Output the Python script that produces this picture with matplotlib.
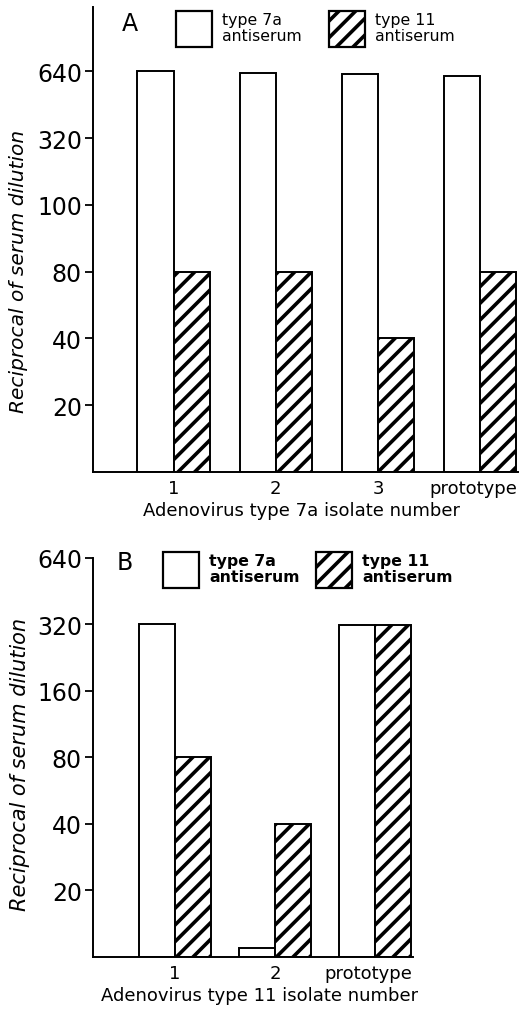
import matplotlib.pyplot as plt
from matplotlib.patches import Rectangle
import matplotlib.transforms as mtransforms
import numpy as np

# panel A data
cats_a = ["1", "2", "3", "prototype"]
t7a_a = [640, 630, 625, 612]
t11_a = [80, 80, 40, 80]
yticks_a = [20, 40, 80, 160, 320, 640]
ylabels_a = ["20", "40", "80", "100", "320", "640"]

# panel B data
cats_b = ["1", "2", "prototype"]
t7a_b = [320, 11, 318]
t11_b = [80, 40, 318]
yticks_b = [20, 40, 80, 160, 320, 640]
ylabels_b = ["20", "40", "80", "160", "320", "640"]

BASE = 10
W, H = 523, 1012
plt.rcParams["font.family"] = ["DejaVu Sans"]
plt.rcParams["hatch.linewidth"] = 2.6
plt.rcParams["hatch.color"] = "black"

fig = plt.figure(figsize=(W / 100, H / 100), dpi=100)


def fig_box(x0, y0, x1, y1):
    # pixel box (top-left origin) -> figure fraction
    return [x0 / W, 1 - y1 / H, (x1 - x0) / W, (y1 - y0) / H]


def draw_panel(ax, cats, v7, v11, yticks, ylabels, xlim, ylim, bw):
    x = np.arange(len(cats))
    ax.bar(x - bw, np.array(v7) - BASE, bw, bottom=BASE, align="edge",
           facecolor="white", edgecolor="black", linewidth=1.4)
    ax.bar(x, np.array(v11) - BASE, bw, bottom=BASE, align="edge",
           facecolor="white", edgecolor="black", linewidth=1.4, hatch="//")
    ax.set_yscale("log", base=2)
    ax.set_ylim(*ylim)
    ax.set_xlim(*xlim)
    ax.set_yticks(yticks)
    ax.set_yticklabels(ylabels)
    ax.minorticks_off()
    ax.set_xticks(x)
    ax.set_xticklabels(cats)
    ax.tick_params(axis="x", length=0, labelsize=13, pad=5)
    ax.tick_params(axis="y", length=6, width=1.3, direction="out", labelsize=17, pad=2)
    for s in ["top", "right"]:
        ax.spines[s].set_visible(False)
    for s in ["left", "bottom"]:
        ax.spines[s].set_linewidth(1.4)
    # the last label sits a little left of its group, as in the original
    lab = ax.get_xticklabels()[-1]
    lab.set_transform(lab.get_transform() +
                      mtransforms.ScaledTranslation(-0.07, 0, fig.dpi_scale_trans))


def legend(letter, bold, lx, ly, boxes):
    fig.text(lx / W, 1 - ly / H, letter, fontsize=17, va="top", ha="left")
    for (bx, by, hatch, txt) in boxes:
        r = Rectangle((bx / W, 1 - (by + 36) / H), 36 / W, 36 / H,
                      transform=fig.transFigure, facecolor="white",
                      edgecolor="black", linewidth=1.6, hatch=hatch)
        fig.add_artist(r)
        fig.text((bx + 46) / W, 1 - (by + 1) / H, txt, fontsize=11.3,
                 va="top", ha="left", linespacing=1.05,
                 fontweight="bold" if bold else "normal")


# Panel A
axA = fig.add_axes(fig_box(93, 8, 518, 473))
draw_panel(axA, cats_a, t7a_a, t11_a, yticks_a, ylabels_a,
           (-0.79, 3.37), (BASE, 1250), 0.355)
axA.set_xlabel("Adenovirus type 7a isolate number", fontsize=13)
axA.xaxis.set_label_coords(0.49, -0.062)
axA.set_ylabel("Reciprocal of serum dilution", fontsize=14.5, style="italic")
axA.yaxis.set_label_coords(-0.153, 0.434)
legend("A", False, 122, 12, [(176, 12, "", "type 7a\nantiserum"),
                             (329, 12, "//", "type 11\nantiserum")])

# Panel B
axB = fig.add_axes(fig_box(93, 559, 413, 958))
draw_panel(axB, cats_b, t7a_b, t11_b, yticks_b, ylabels_b,
           (-0.82, 2.38), (BASE, 640), 0.36)
axB.set_xlabel("Adenovirus type 11 isolate number", fontsize=13)
axB.xaxis.set_label_coords(0.52, -0.072)
axB.set_ylabel("Reciprocal of serum dilution", fontsize=15, style="italic")
axB.yaxis.set_label_coords(-0.197, 0.486)
legend("B", True, 117, 551, [(163, 553, "", "type 7a\nantiserum"),
                             (316, 553, "//", "type 11\nantiserum")])

fig.savefig("out.png", dpi=100)
